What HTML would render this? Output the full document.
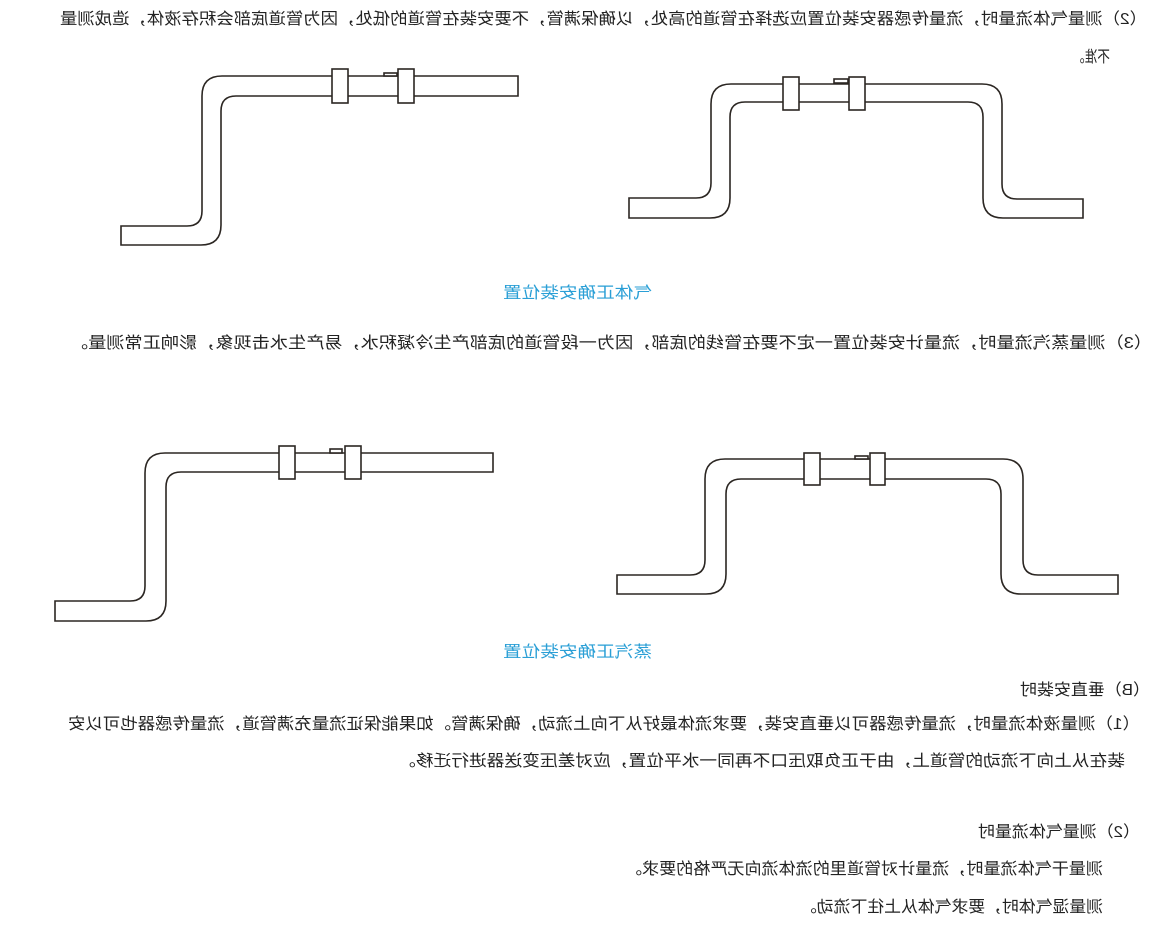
<!DOCTYPE html>
<html><head><meta charset="utf-8"><style>
html,body{margin:0;padding:0;background:#fff;}
svg{display:block;}
text{font-family:"Liberation Sans","Noto Sans CJK SC",sans-serif;font-size:16px;fill:#222;}
.b{fill:#2a9fd6;}
</style></head><body>
<svg width="1157" height="945" viewBox="0 0 1157 945" xmlns="http://www.w3.org/2000/svg">
<g fill="#fff" stroke="#2b2622" stroke-width="1.6">
<path d="M518,76 L222,76 Q202,76 202,96 L202,211 Q202,226 187,226 L121,226 L121,245 L201,245 Q221,245 221,225 L221,111 Q221,96 236,96 L518,96 Z"/>
<rect x="332" y="69" width="16" height="34"/><rect x="398" y="69" width="16" height="34"/><rect x="384" y="73" width="13" height="3"/>
<path d="M629,198 L696,198 Q711,198 711,183 L711,104 Q711,84 731,84 L982,84 Q1002,84 1002,104 L1002,184 Q1002,199 1017,199 L1083,199 L1083,218 L1003,218 Q983,218 983,198 L983,117 Q983,102 968,102 L745,102 Q730,102 730,117 L730,198 Q730,218 710,218 L629,218 Z"/>
<rect x="783" y="77" width="16" height="33"/><rect x="849" y="77" width="16" height="33"/><rect x="834" y="79" width="14" height="4"/>
<path d="M493,453 L165,453 Q145,453 145,473 L145,586 Q145,601 130,601 L55,601 L55,621 L146,621 Q166,621 166,601 L166,487 Q166,472 181,472 L493,472 Z"/>
<rect x="279" y="446" width="16" height="33"/><rect x="345" y="446" width="16" height="33"/><rect x="330" y="449" width="12" height="4"/>
<path d="M617,575 L690,575 Q705,575 705,560 L705,479 Q705,459 725,459 L1003,459 Q1023,459 1023,479 L1023,560 Q1023,575 1038,575 L1118,575 L1118,594 L1021,594 Q1001,594 1001,574 L1001,494 Q1001,479 986,479 L741,479 Q726,479 726,494 L726,574 Q726,594 706,594 L617,594 Z"/>
<rect x="804" y="453" width="16" height="32"/><rect x="870" y="453" width="15" height="32"/><rect x="855" y="456" width="13" height="3"/>
</g>
<g transform="translate(1157,0) scale(-1,1)">
<text x="10" y="24" textLength="1087" lengthAdjust="spacingAndGlyphs">（2）测量气体流量时，流量传感器安装位置应选择在管道的高处，以确保满管，不要安装在管道的低处，因为管道底部会积存液体，造成测量</text>
<text x="47" y="62" textLength="38" lengthAdjust="spacingAndGlyphs">不准。</text>
<text class="b" x="505" y="298" textLength="149" lengthAdjust="spacingAndGlyphs">气体正确安装位置</text>
<text x="5" y="348" textLength="1082" lengthAdjust="spacingAndGlyphs">（3）测量蒸汽流量时，流量计安装位置一定不要在管线的底部，因为一段管道的底部产生冷凝积水，易产生水击现象，影响正常测量。</text>
<text class="b" x="505" y="657" textLength="149" lengthAdjust="spacingAndGlyphs">蒸汽正确安装位置</text>
<text x="7" y="695" textLength="130" lengthAdjust="spacingAndGlyphs">（B）垂直安装时</text>
<text x="17" y="729" textLength="1072" lengthAdjust="spacingAndGlyphs">（1）测量液体流量时，流量传感器可以垂直安装，要求流体最好从下向上流动，确保满管。如果能保证流量充满管道，流量传感器也可以安</text>
<text x="32" y="766" textLength="727" lengthAdjust="spacingAndGlyphs">装在从上向下流动的管道上，由于正负取压口不再同一水平位置，应对差压变送器进行迁移。</text>
<text x="17" y="837" textLength="162" lengthAdjust="spacingAndGlyphs">（2）测量气体流量时</text>
<text x="54" y="874" textLength="478" lengthAdjust="spacingAndGlyphs">测量干气体流量时，流量计对管道里的流体流向无严格的要求。</text>
<text x="54" y="912" textLength="303" lengthAdjust="spacingAndGlyphs">测量湿气体时，要求气体从上往下流动。</text>
</g>
</svg>
</body></html>
